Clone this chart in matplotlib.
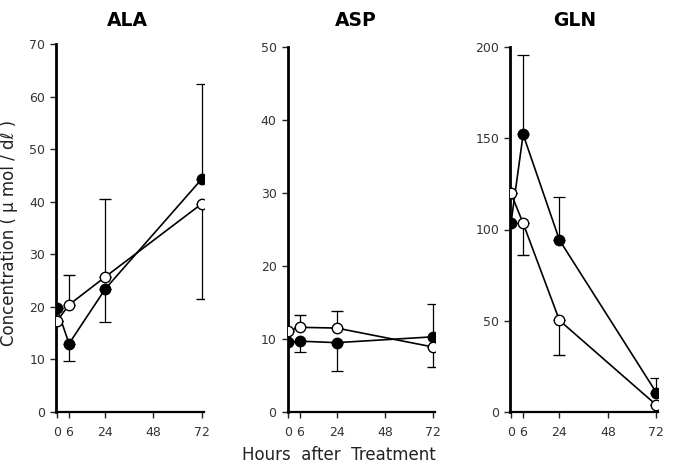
import matplotlib
matplotlib.use("Agg")
import matplotlib.pyplot as plt

# sampling times (hours after treatment)
hours = [0, 6, 24, 72]
xticks = [0, 6, 24, 48, 72]

panels = ["ALA", "ASP", "GLN"]
ymax = [70, 50, 200]
ystep = [10, 10, 50]

# filled circles: means, lower / upper error bars
filled_y = [[19.7, 13.0, 23.4, 44.3],
            [9.6, 9.7, 9.5, 10.3],
            [103.6, 152.1, 94.2, 10.6]]
filled_lo = [[0, 3.3, 6.2, 0],
             [0, 1.5, 3.9, 0],
             [0, 0, 0, 0]]
filled_hi = [[0, 0, 0, 18.0],
             [0, 0, 0, 4.5],
             [0, 43.7, 23.4, 8.0]]

# open circles
open_y = [[17.3, 20.4, 25.7, 39.6],
          [11.1, 11.6, 11.5, 8.9],
          [119.8, 103.4, 50.2, 3.8]]
open_lo = [[0, 0, 0, 18.1],
           [0, 0, 0, 2.8],
           [0, 17.2, 19.0, 0]]
open_hi = [[0, 5.6, 14.8, 0],
           [0, 1.7, 2.4, 0],
           [0, 0, 0, 0]]

W, H = 673, 466
fig = plt.figure(figsize=(W / 100, H / 100), dpi=100)

# axes boxes in pixels: left, top(px of ymax), width
boxes = [(56.4, 44, 147.3), (287.7, 47, 147.5), (510.4, 47, 148.0)]
title_x = [127, 356, 575]
y0_px = 412

for i, name in enumerate(panels):
    left, top, width = boxes[i]
    ax = fig.add_axes([left / W, (H - y0_px) / H, width / W, (y0_px - top) / H])

    ax.errorbar(hours, filled_y[i], yerr=[filled_lo[i], filled_hi[i]],
                color="black", lw=1.2, elinewidth=0.9, capsize=4, capthick=0.9,
                marker="o", ms=7.5, mfc="black", mec="black", zorder=3)
    ax.errorbar(hours, open_y[i], yerr=[open_lo[i], open_hi[i]],
                color="black", lw=1.2, elinewidth=0.9, capsize=4, capthick=0.9,
                marker="o", ms=7.5, mfc="white", mec="black", mew=1.0, zorder=4)

    ax.set_xlim(-0.3, 73)
    ax.set_ylim(0, ymax[i])
    ax.set_xticks(xticks)
    ax.set_yticks(range(0, ymax[i] + 1, ystep[i]))
    for s in ["top", "right"]:
        ax.spines[s].set_visible(False)
    ax.spines["left"].set_linewidth(2.0)
    ax.spines["bottom"].set_linewidth(1.6)
    ax.tick_params(axis="both", direction="out", length=4, width=1,
                   labelsize=9, labelcolor="#333333", color="#222222")
    ax.tick_params(axis="y", pad=4)
    ax.tick_params(axis="x", pad=6)
    ax.patch.set_alpha(0)

    fig.text(title_x[i] / W, 1 - 20 / H, name, ha="center", va="center",
             fontsize=13.5, fontweight="bold")

fig.text(9 / W, 1 - 233 / H, "Concentration ( \u03bc mol / d\u2113 )", rotation=90,
         ha="center", va="center", fontsize=12, color="#222222")
fig.text(339 / W, 1 - 455 / H, "Hours  after  Treatment", ha="center",
         va="center", fontsize=12, color="#222222")

fig.savefig("out.png", dpi=100)
